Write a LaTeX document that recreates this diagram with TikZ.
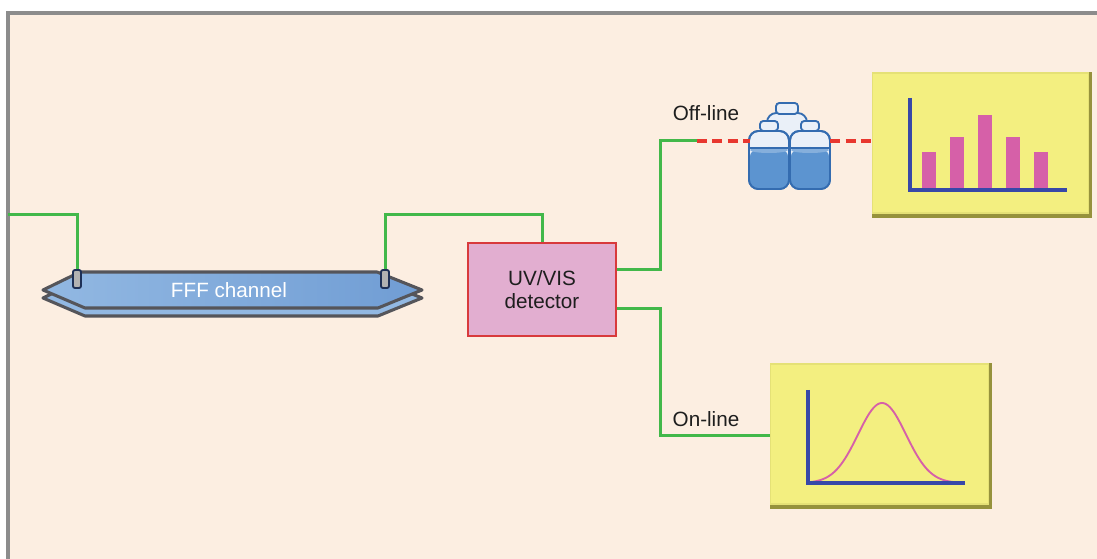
\documentclass[tikz,border=0pt]{standalone}
\usepackage{fontspec}
\setmainfont{Liberation Sans}
\usetikzlibrary{calc}
\definecolor{panelbg}{RGB}{252,238,225}
\definecolor{panelrim}{RGB}{140,140,140}
\definecolor{wiregreen}{RGB}{66,184,74}
\definecolor{dashred}{RGB}{232,55,47}
\definecolor{detfill}{RGB}{226,174,208}
\definecolor{detrim}{RGB}{216,58,60}
\definecolor{chartfill}{RGB}{243,239,128}
\definecolor{chartshade}{RGB}{150,146,60}
\definecolor{axisblue}{RGB}{55,72,168}
\definecolor{barpink}{RGB}{214,96,168}
\definecolor{chanfill}{RGB}{112,157,212}
\definecolor{chanlight}{RGB}{146,184,226}
\definecolor{chanrim}{RGB}{85,85,90}
\definecolor{portnavy}{RGB}{30,48,86}
\definecolor{vialrim}{RGB}{52,108,176}
\definecolor{vialliquid}{RGB}{92,148,208}
\definecolor{vialglass}{RGB}{234,240,248}
\definecolor{labeltext}{RGB}{30,30,30}
\tikzset{
  wire/.style={draw=wiregreen, line width=2.25pt},
  dashwire/.style={draw=dashred, line width=2.4pt, dash pattern=on 7.5pt off 4pt},
  detbox/.style={draw=detrim, fill=detfill, line width=2.2pt, minimum width=111pt,
    minimum height=69.75pt, align=center, font=\fontsize{15.5}{17}\selectfont, text=labeltext},
  portbox/.style={draw=portnavy, fill=gray!60, line width=1.4pt, rounded corners=1.5pt,
    minimum width=6pt, minimum height=13.5pt, inner sep=0pt},
  lbl/.style={font=\fontsize{15.5}{17.5}\selectfont, text=labeltext},
  axis/.style={draw=axisblue, line width=2.4pt},
  vialpart/.style={fill=vialglass, draw=vialrim, line width=1.4pt},
}
\begin{document}
\begin{tikzpicture}[x=0.75pt,y=-0.75pt]
\useasboundingbox (0,0) rectangle (1097,559);
\fill[white] (0,0) rectangle (1097,559);
% panel
\fill[panelbg] (8,13) rectangle (1100,562);
\draw[panelrim, line width=2.4pt] (8,562) -- (8,13) -- (1100,13);

% FFF channel: lower plate, then upper plate
\filldraw[fill=chanlight, draw=chanrim, line width=2.3pt, line join=round]
  (43,298) -- (80,280) -- (377,280) -- (422,298) -- (378,316) -- (85,316) -- cycle;
\filldraw[draw=chanrim, line width=2.3pt, line join=round, left color=chanlight, right color=chanfill]
  (43,290) -- (80,272) -- (377,272) -- (422,290) -- (378,308) -- (85,308) -- cycle;
\node[text=white, font=\fontsize{15.5}{17.5}\selectfont] (chanlabel) at (229,290) {FFF channel};
\node[portbox] (portL) at (77,279) {};
\node[portbox] (portR) at (385,279) {};

% detector
\node[detbox] (detector) at (542,289.5) {UV/VIS\\detector};

% chart areas
\node[minimum width=164.25pt, minimum height=109.5pt, inner sep=0pt] (offchart) at (982,145) {};
\node[minimum width=166.5pt, minimum height=109pt, inner sep=0pt] (onchart) at (881,436) {};
\foreach \c in {offchart,onchart}{
  \fill[chartshade] (\c.north west) rectangle (\c.south east);
  \fill[chartfill!85!chartshade] ($(\c.north west)$) rectangle ($(\c.south east)+(-3,-4)$);
  \fill[chartfill] ($(\c.north west)+(1,2)$) rectangle ($(\c.south east)+(-4,-6)$);
}
% bar chart
\foreach \xa/\top in {922/152, 950/137, 978/115, 1006/137, 1034/152}
  \fill[barpink] (\xa,\top) rectangle (\xa+14,190);
\draw[axis] (910,98) -- (910,190) -- (1067,190);
% peak chart
\draw[barpink, line width=1.4pt, domain=810:957, samples=80, smooth]
  plot (\x, {483 - 80*exp(-((\x-882)*(\x-882))/1152)});
\draw[axis] (808,390) -- (808,483) -- (965,483);

% vials
\node[minimum width=60pt, minimum height=66pt, inner sep=0pt] (vials) at (790,145) {};
% back vial
\filldraw[vialpart, rounded corners=7pt] (767,113) rectangle (807,172);
\filldraw[vialpart, rounded corners=2.5pt] (776,103) rectangle (798,114);
% two front vials
\foreach \cx in {769,810}{
  \filldraw[vialpart, rounded corners=7pt] (\cx-20,131) rectangle (\cx+20,189);
  \fill[vialliquid, rounded corners=5pt] (\cx-19,150) rectangle (\cx+19,188);
  \fill[vialliquid!75!white] (\cx,150) ellipse (19 and 3);
  \draw[vialrim, line width=1.4pt, rounded corners=7pt] (\cx-20,131) rectangle (\cx+20,189);
  \draw[vialrim, line width=1.1pt] (\cx-19,148) -- (\cx+19,148);
  \filldraw[vialpart, rounded corners=2.5pt] (\cx-9,121) rectangle (\cx+9,131);
}

% tubing
\coordinate (inlet) at (8,215);
\coordinate (bendA) at (542,215);
\coordinate (outA) at (detector.east |- 0,270);
\coordinate (outB) at (detector.east |- 0,309);
\coordinate (offturn) at (660,141);
\coordinate (offend) at (697,141);
\coordinate (onturn) at (660,436);
\draw[wire] (inlet) -| (portL.north);
\draw[wire] (portR.north) |- (bendA) -- (detector.north);
\draw[wire] (outA) -| (offturn) -- (offend);
\draw[dashwire] (offend) -- (vials.west |- offend);
\draw[dashwire] (vials.east |- offend) -- (offchart.west |- offend);
\draw[wire] (outB) -| (onturn) -- (onchart.west |- onturn);

% labels
\node[lbl] (offlabel) at (706,113) {Off-line};
\node[lbl] (onlabel) at (706,419) {On-line};
\end{tikzpicture}
\end{document}
